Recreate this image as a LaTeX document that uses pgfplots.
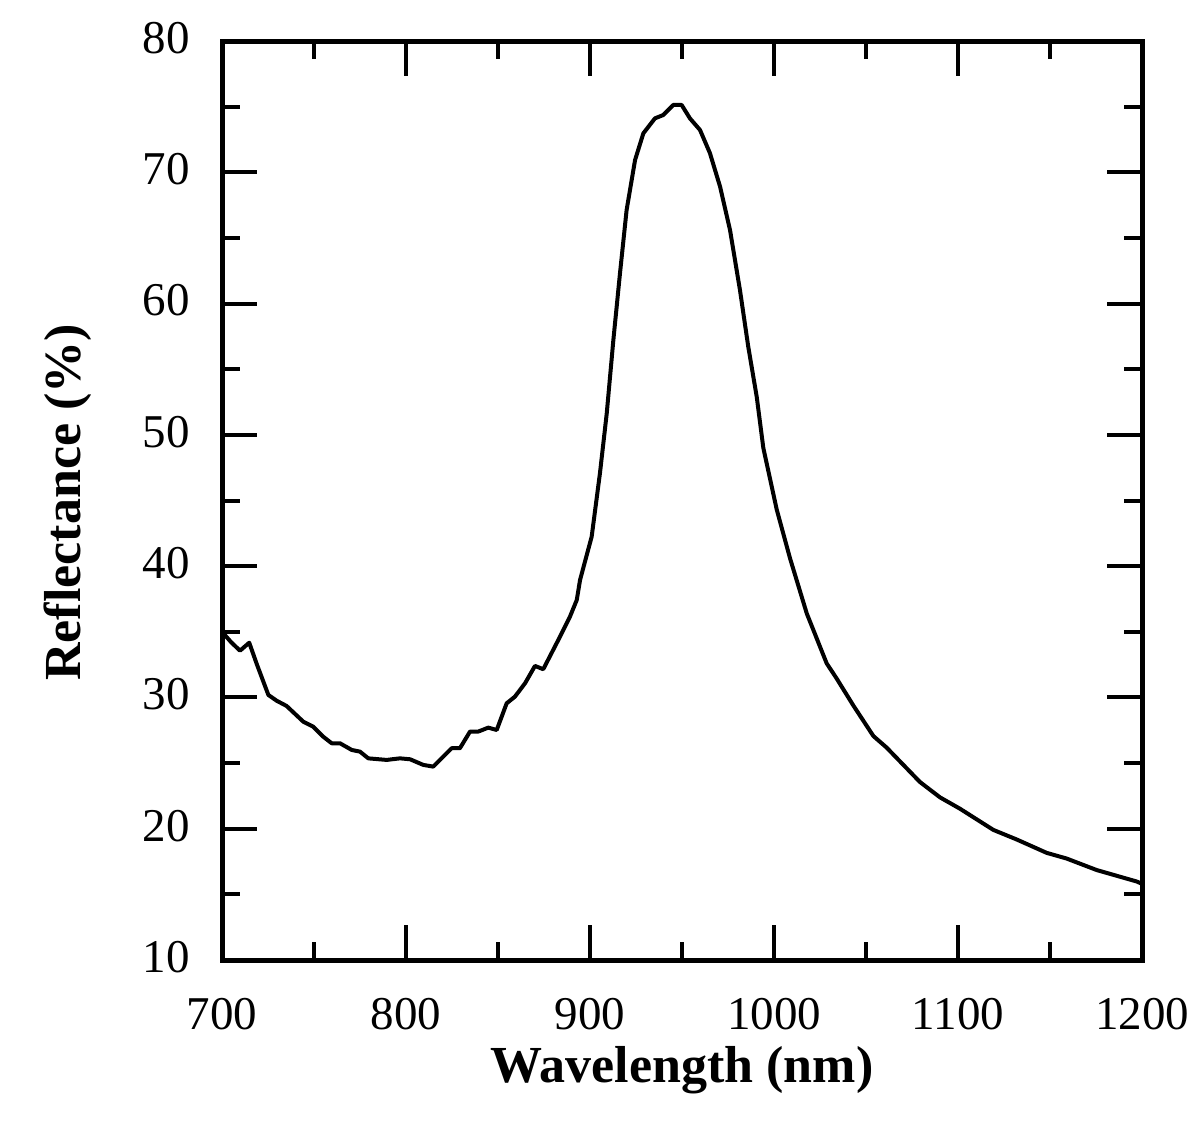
\documentclass[border=0pt]{standalone}
\usepackage{fontspec}
\setmainfont{Liberation Serif}
\usepackage{pgfplots}
\pgfplotsset{compat=1.18}
\begin{document}
\begin{tikzpicture}[x=1pt,y=1pt]
\useasboundingbox (0,0) rectangle (600,568);
\begin{axis}[
  at={(111pt,88pt)}, anchor=south west,
  scale only axis, width=460pt, height=459.5pt,
  xmin=700, xmax=1200, ymin=10, ymax=80,
  xtick={700,800,...,1200}, ytick={10,20,...,80},
  minor x tick num=1, minor y tick num=1,
  tick align=inside,
  major tick length=17.5pt, minor tick length=9pt,
  every tick/.style={line width=2pt, black},
  axis line style={line width=2.5pt},
  /pgf/number format/assume math mode=true,
  /pgf/number format/1000 sep={},
  tick label style={font=\fontsize{23.5}{28}\selectfont},
  xticklabel style={yshift=-15.5pt},
  yticklabel style={xshift=-12.5pt, yshift=1.5pt},
  label style={font=\bfseries\fontsize{26}{31}\selectfont},
  xlabel={Wavelength (nm)},
  ylabel={Reflectance (\%)},
  xlabel style={at={(axis description cs:0.5,-0.12)}, anchor=center},
  ylabel style={at={(axis description cs:-0.1674,0.498)}, anchor=center},
]
\addplot[black, line width=2pt, no marks, line join=round] coordinates {
(700,35.0) (705,34.2) (709.8,33.56) (714.8,34.17) (719,32.5) (725.2,30.19)
(729.7,29.75) (735.1,29.35) (744.2,28.15) (749.6,27.77) (755.1,27.0)
(759.6,26.51) (764.1,26.51) (770.5,26.0) (775,25.87) (779.5,25.36)
(789.5,25.24) (796.7,25.36) (802.2,25.29) (809.4,24.86) (814.8,24.73)
(824.8,26.13) (829.3,26.13) (834.8,27.4) (839.3,27.4) (844.7,27.70)
(849.3,27.52) (854.7,29.55) (859.2,30.06) (864.7,31.08) (870.1,32.4)
(874.6,32.15) (883.7,34.63) (889.1,36.15) (892.8,37.42) (894.6,38.95)
(900.9,42.24) (905.4,47.07) (909.1,51.64) (912.7,57.23) (916.3,62.31)
(919.9,67.13) (924.5,70.94) (929,72.97) (935.3,74.11) (939.8,74.36)
(945.3,75.13) (949.8,75.13) (954.3,74.11) (959.8,73.22) (965.2,71.45)
(970.7,68.9) (976.1,65.6) (981.5,61.03) (986.0,56.72) (990.6,52.91)
(994.2,49.0) (1001.5,44.3) (1008.7,40.6) (1017.8,36.4) (1028.6,32.6)
(1034.1,31.43) (1043.1,29.39) (1054,27.06) (1061.2,26.18) (1079.3,23.56)
(1090.2,22.39) (1101.1,21.52) (1119.2,19.91) (1131.9,19.18) (1148.2,18.16)
(1159,17.73) (1175.4,16.85) (1197.1,15.98) (1200,15.8)
};
\end{axis}
\end{tikzpicture}
\end{document}
